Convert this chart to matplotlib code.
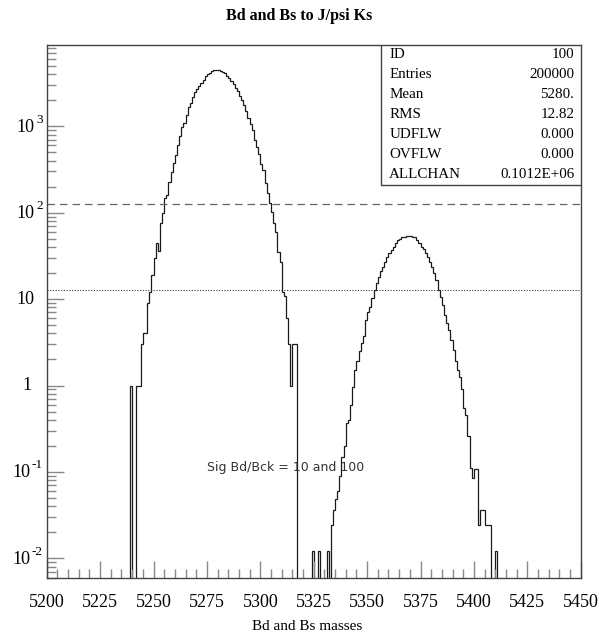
import matplotlib
matplotlib.use('Agg')
import matplotlib.pyplot as plt
import numpy as np
from matplotlib.transforms import ScaledTranslation, blended_transform_factory

# ---------------- data ----------------
x_min, x_max, n_bins = 5200, 5450, 250

bd_first_bin = 5239
bd_counts = [1, 0, 0, 1, 1, 3, 4, 4, 9, 12,
             19, 30, 44, 36, 75, 100, 147, 160, 229, 298,
             373, 466, 608, 772, 989, 1100, 1352, 1660, 1876, 2166,
             2475, 2680, 2927, 3146, 3437, 3822, 4030, 4173, 4400, 4487,
             4490, 4470, 4400, 4250, 4100, 3850, 3600, 3370, 3090, 2800,
             2550, 2250, 2000, 1750, 1500, 1250, 1050, 906, 694, 581,
             474, 370, 312, 219, 168, 128, 103, 75, 60, 35,
             27, 12, 11, 6, 3, 1, 3, 3]

bs_first_bin = 5324
bs_values = [0.012, 0, 0, 0.012, 0, 0, 0, 0.012, 0, 0.024,
             0.036, 0.048, 0.06, 0.09, 0.15, 0.2, 0.37, 0.4, 0.6, 0.97,
             1.5, 1.9, 2.5, 3.1, 3.7, 5.8, 7.0, 8.2, 10.2, 12.6,
             15.2, 18.2, 21.0, 23.7, 27.0, 31.0, 33.9, 37.0, 40.4, 45.0,
             48.3, 50.0, 51.9, 53.0, 53.7, 53.7, 53.4, 52.5, 51.9, 48.3,
             44.3, 40.4, 37.6, 33.9, 31.0, 27.0, 23.7, 20.0, 16.8, 12.6,
             10.7, 8.5, 6.6, 5.3, 4.4, 3.4, 2.6, 1.9, 1.5, 1.27,
             0.9, 0.55, 0.45, 0.26, 0.11, 0.084, 0.108, 0.108, 0.024, 0.036,
             0.036, 0.024, 0.024, 0.024, 0, 0, 0.012]

level_lines = [126.0, 12.6]
y_limits = (10 ** -2.231, 10 ** 3.944)

stats_labels = ["ID", "Entries", "Mean", "RMS", "UDFLW", "OVFLW", "ALLCHAN"]
stats_values = ["100", "200000", "5280.", "12.82", "0.000", "0.000", "0.1012E+06"]

title = "Bd and Bs to J/psi Ks"
x_label = "Bd and Bs masses"
annotation = "Sig Bd/Bck = 10 and 100"
x_ticks = list(range(5200, 5451, 25))
y_tick_decades = [-2, -1, 0, 1, 2, 3]

# ---------------- build histogram ----------------
edges = np.linspace(x_min, x_max, n_bins + 1)
contents = np.zeros(n_bins)
i0 = bd_first_bin - x_min
contents[i0:i0 + len(bd_counts)] += np.array(bd_counts, dtype=float)
j0 = bs_first_bin - x_min
contents[j0:j0 + len(bs_values)] += np.array(bs_values, dtype=float)
draw_vals = np.where(contents > 0, contents, 1e-6)

serif = 'Liberation Serif'
plt.rcParams['font.family'] = serif
plt.rcParams['mathtext.fontset'] = 'custom'
plt.rcParams['mathtext.rm'] = serif
plt.rcParams['mathtext.it'] = serif

fig = plt.figure(figsize=(5.99, 6.37), dpi=100)
W, H = 599, 637
ax_l, ax_r, ax_t, ax_b = 46.7, 580.7, 44.7, 578.3
ax = fig.add_axes([ax_l / W, 1 - ax_b / H, (ax_r - ax_l) / W, (ax_b - ax_t) / H])

ax.set_yscale('log')
ax.set_xlim(x_min, x_max)
ax.set_ylim(*y_limits)

ax.stairs(draw_vals, edges, baseline=None, color='#1a1a1a', lw=0.9)

ax.axhline(level_lines[0], color='#666666', lw=0.9, ls=(0, (6, 4)))
ax.axhline(level_lines[1], color='#333333', lw=0.7, ls=(0, (1.2, 1.6)))

ax.text(5275.0, 0.114, annotation, fontsize=9.0, family='DejaVu Sans',
        color='#333333', ha='left', va='center')

for s in ax.spines.values():
    s.set_color('#444444')
    s.set_linewidth(1.0)

# ticks
ax.set_xticks(x_ticks)
ax.set_xticklabels([str(t) for t in x_ticks], fontsize=13)
ax.set_xticks(list(range(5200, 5451, 5)), minor=True)
ax.set_yticks([10.0 ** d for d in y_tick_decades])
ax.set_yticklabels([])
ax.yaxis.set_minor_locator(matplotlib.ticker.LogLocator(base=10, subs=np.arange(2, 10)))
ax.yaxis.set_minor_formatter(matplotlib.ticker.NullFormatter())
ax.tick_params(axis='both', which='major', direction='in', length=12, width=1.0,
               color='#888888', top=False, right=False)
ax.tick_params(axis='both', which='minor', direction='in', length=6.2, width=1.0,
               color='#888888', top=False, right=False)
ax.tick_params(axis='x', which='major', pad=11)

# y tick labels (PAW style)
trans = blended_transform_factory(ax.transAxes, ax.transData)
fs_y = 13
for d in y_tick_decades:
    v = 10.0 ** d
    if d == 0:
        ax.text(0, v, "1", fontsize=fs_y, ha='right', va='center',
                transform=trans + ScaledTranslation(-15 / 100, 0, fig.dpi_scale_trans))
    elif d == 1:
        ax.text(0, v, "10", fontsize=fs_y, ha='right', va='center',
                transform=trans + ScaledTranslation(-12.5 / 100, 0, fig.dpi_scale_trans))
    else:
        off = 12.5 if d > 0 else 16.0
        ax.text(0, v, "10", fontsize=fs_y, ha='right', va='center',
                transform=trans + ScaledTranslation(-off / 100, -1 / 100, fig.dpi_scale_trans))
        ax.text(0, v, ("%d" % d), fontsize=9.5, ha='right', va='bottom',
                transform=trans + ScaledTranslation(-4.0 / 100, 0.5 / 100, fig.dpi_scale_trans))

# stats box
box_bottom_px = 185.0
bx0 = (380.7 - ax_l) / (ax_r - ax_l)
by0 = (ax_b - box_bottom_px) / (ax_b - ax_t)
ax.add_patch(plt.Rectangle((bx0, by0), 1 - bx0, 1 - by0, transform=ax.transAxes,
                           fill=True, facecolor='white', edgecolor='#444444', lw=1.0, zorder=5))
n = len(stats_labels)
row_h = (1 - by0) / n
for k, (lab, val) in enumerate(zip(stats_labels, stats_values)):
    yy = 1 - row_h * (k + 0.5)
    ax.text(bx0 + 0.016, yy, lab, transform=ax.transAxes, fontsize=10.8,
            ha='left', va='center', zorder=6)
    ax.text(0.988, yy, val, transform=ax.transAxes, fontsize=10.8,
            ha='right', va='center', zorder=6)

fig.text(0.5, 1 - 15.5 / H, title, ha='center', va='center', fontsize=11.5,
         fontweight='bold', family=serif)
fig.text(307 / W, 1 - 627 / H, x_label, ha='center', va='center', fontsize=11,
         family=serif)

fig.savefig('out.png', dpi=100)
